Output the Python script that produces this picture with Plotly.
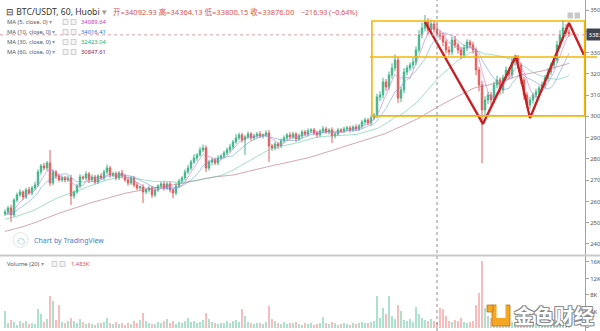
import plotly.graph_objects as go
import pandas as pd

W, H = 600, 331
PW = 585  # plot area width (right margin holds price labels)

# ---------------- data ----------------
warmup_close = [
    23650, 23720, 23580, 23800, 23760, 23900, 23850, 23700, 23820, 23950,
    24020, 23980, 23880, 23940, 24060, 24120, 24000, 23950, 24080, 24150,
    24050, 24110, 24200, 24180, 24090, 24150, 24230, 24280, 24200, 24300,
    24550, 24700, 24650, 24800, 24900, 24850, 25000, 24950, 25100, 25050,
    24980, 25120, 25200, 25080, 25150, 25250, 25180, 25100, 25220, 25300,
    25300, 25420, 25350, 25280, 25400, 25450, 25330, 25380, 25420, 25350,
]
first_open = 25420

close = [
    25506, 25694, 25365, 26070, 26305, 26446, 26211, 26540, 26399, 26634,
    26775, 27386, 27668, 27574, 27809, 26869, 27386, 27198, 27010, 27104,
    27010, 27104, 26258, 26446, 26728, 27151, 27104, 27292, 27010, 27151,
    26916, 27198, 27104, 27386, 27574, 27245, 27292, 27104, 27339, 27198,
    27010, 26869, 27104, 26775, 26634, 26681, 26446, 26540, 26634, 26305,
    26540, 26728, 26822, 26634, 26822, 26540, 26399, 26728, 26963, 27104,
    27386, 27574, 27856, 28044, 28185, 28420, 28514, 27574, 27856, 27950,
    27809, 28044, 28138, 28279, 28420, 28561, 28796, 28984, 29125, 28890,
    29031, 29172, 28984, 29078, 29172, 29078, 29125, 29219, 28608, 28514,
    28702, 28608, 28843, 28984, 29125, 29031, 29172, 28937, 29078, 29266,
    29172, 29313, 29360, 29219, 29125, 29313, 29407, 29266, 29360, 29078,
    29172, 29360, 29313, 29407, 29454, 29360, 29501, 29407, 29548, 29736,
    29830, 29689, 29924, 30065, 30911, 31005, 31616, 31381, 31945, 32274,
    32650, 30864, 31240, 32086, 32274, 32415, 32556, 33120, 33825, 34154,
    34436, 34060, 34342, 34092.93, 33876, 33778, 33496, 33120, 33026, 33590,
    33355, 33120, 32885, 33214, 33496, 33355, 33120, 32180, 31475, 30300,
    30770, 31005, 30770, 31475, 31710, 31240, 31804, 32180, 31945, 32556,
    32744, 32415, 31710, 31005, 30535, 30770, 31005, 31146, 31334, 31475,
    31804, 32086, 32415, 32650, 33355, 33825, 34154, 33966, 33876,
]

upper_wick = [
    120, 90, 150, 80, 110, 130, 70, 100, 140, 90,
    160, 120, 100, 140, 90, 611, 130, 80, 100, 120,
    90, 110, 150, 80, 100, 130, 70, 120, 90, 110,
    100, 80, 130, 110, 160, 90, 100, 120, 80, 140,
    90, 110, 100, 80, 130, 70, 120, 90, 110, 100,
    140, 80, 100, 120, 90, 110, 70, 130, 100, 80,
    120, 150, 100, 180, 90, 140, 160, 120, 100, 90,
    110, 130, 80, 100, 120, 140, 90, 180, 110, 100,
    80, 120, 90, 110, 100, 130, 70, 120, 140, 90,
    100, 80, 110, 120, 90, 130, 100, 80, 110, 90,
    100, 120, 80, 90, 110, 70, 130, 100, 80, 120,
    90, 100, 80, 110, 90, 100, 70, 120, 90, 110,
    100, 80, 130, 90, 150, 180, 200, 140, 160, 220,
    260, 120, 150, 180, 140, 120, 200, 170, 220, 250,
    329, 180, 210, 150, 271.2, 160, 140, 120, 180, 150,
    200, 120, 140, 160, 130, 110, 150, 120, 140, 200,
    180, 150, 140, 160, 200, 130, 150, 170, 120, 190,
    160, 140, 120, 150, 130, 140, 110, 150, 120, 160,
    140, 180, 120, 150, 200, 230, 376, 180, 150,
]

lower_wick = [
    100, 130, 329, 90, 110, 80, 140, 100, 90, 120,
    110, 90, 130, 100, 120, 150, 110, 140, 90, 100,
    120, 100, 423, 130, 90, 110, 100, 120, 140, 90,
    110, 100, 80, 120, 100, 130, 90, 110, 100, 120,
    90, 130, 100, 120, 110, 90, 517, 100, 120, 140,
    100, 90, 110, 130, 100, 120, 250, 110, 90, 100,
    120, 90, 110, 100, 130, 80, 100, 188, 120, 140,
    100, 110, 90, 120, 100, 130, 110, 90, 100, 120,
    705, 100, 130, 90, 110, 100, 120, 90, 752, 130,
    110, 140, 100, 90, 120, 110, 100, 130, 90, 110,
    100, 120, 90, 110, 130, 100, 120, 90, 110, 329,
    120, 100, 90, 110, 100, 120, 90, 110, 100, 120,
    130, 100, 120, 110, 150, 200, 160, 180, 150, 170,
    140, 235, 200, 160, 150, 140, 170, 150, 130, 160,
    150, 200, 170, 160, 75.85, 180, 200, 170, 160, 150,
    140, 170, 200, 150, 160, 140, 170, 250, 300, 2500,
    280, 200, 230, 180, 160, 210, 170, 150, 190, 160,
    180, 150, 200, 230, 150, 180, 160, 150, 140, 170,
    150, 160, 140, 170, 150, 180, 160, 200, 140,
]

volume_k = [
    4.1, 1.2, 2.0, 1.5, 0.8, 1.8, 1.1, 1.6, 0.9, 1.3,
    1.0, 4.6, 3.4, 1.5, 2.2, 7.8, 6.5, 2.0, 5.6, 1.5,
    1.2, 1.6, 2.4, 1.8, 1.1, 2.2, 1.4, 0.9, 1.2, 1.0,
    0.8, 1.3, 1.1, 1.5, 2.5, 1.2, 0.9, 1.4, 1.0, 1.1,
    0.7, 1.2, 1.0, 1.6, 1.3, 2.0, 3.6, 1.8, 1.2, 1.0,
    0.9, 1.4, 1.1, 1.6, 2.2, 1.3, 1.8, 1.0, 1.5, 1.2,
    1.6, 2.5, 1.4, 1.8, 1.2, 1.5, 1.9, 3.6, 2.2, 1.4,
    1.2, 1.0, 1.3, 1.1, 1.6, 1.2, 1.8, 2.0, 1.5, 4.6,
    2.8, 1.5, 1.2, 1.0, 1.3, 1.1, 0.9, 1.4, 5.3, 2.2,
    1.6, 1.2, 1.0, 1.4, 0.9, 1.1, 1.3, 1.5, 1.0, 0.8,
    1.1, 0.9, 1.2, 0.8, 1.0, 1.3, 2.7, 1.2, 0.9, 1.5,
    1.1, 0.8, 1.0, 1.2, 0.9, 0.8, 1.1, 1.0, 1.2, 1.5,
    1.3, 1.1, 1.5, 1.8, 7.8, 2.5, 4.8, 3.5, 7.8, 2.8,
    2.2, 5.6, 4.0, 2.0, 1.6, 2.2, 1.5, 5.1, 3.5, 2.4,
    2.0, 1.8, 2.2, 1.6, 1.483, 4.8, 4.5, 3.0, 1.8, 1.5,
    2.0, 1.6, 2.5, 1.4, 1.2, 1.5, 1.8, 5.6, 8.5, 16.2,
    4.8, 3.0, 2.5, 2.2, 1.8, 2.0, 1.6, 1.4, 1.8, 1.5,
    1.2, 1.6, 2.0, 1.8, 1.5, 1.3, 1.6, 1.2, 1.4, 1.1,
    1.3, 1.5, 1.2, 1.6, 1.8, 2.0, 1.5, 1.3, 1.2,
]

price_ticks = [24000, 25000, 26000, 27000, 28000, 29000, 30000,
               31000, 32000, 33000, 34000, 35000]
price_tick_labels = ["24000.00", "25000.00", "26000.00", "27000.00", "28000.00",
                     "29000.00", "30000.00", "31000.00", "32000.00", "33000.00",
                     "34000.00", "35000.00"]
vol_ticks = [0, 4, 8, 12, 16]
vol_tick_labels = ["0", "4K", "8K", "12K", "16K"]

ma_periods = [5, 10, 30, 60]
ma_legend_values = ["34089.64", "34016.41", "32423.04", "30847.61"]

# user drawings (bar index, price)
zigzag_idx = [140, 159.3, 170.3, 175, 188, 193]
zigzag_price = [34436, 29642, 32838, 29924, 34389, 32885]
box_idx = [122.3, 193.2]
box_price = [30020, 34480]
level_price = 32790
crosshair_idx = 144
crosshair_price = 33832
crosshair_label = "33832.00"

# ---------------- derived ----------------
n = len(close)
idx = list(range(n))
opens = [first_open] + close[:-1]
high = [max(o, c) + u for o, c, u in zip(opens, close, upper_wick)]
low = [min(o, c) - l for o, c, l in zip(opens, close, lower_wick)]

full = pd.Series(warmup_close + close)
mas = {p: full.rolling(p).mean().iloc[len(warmup_close):].tolist() for p in ma_periods}

UP, DN = "#41b58b", "#e35c5c"
UPV, DNV = "#abe1cd", "#f7bcbc"
vol_colors = [UPV if c >= o else DNV for o, c in zip(opens, close)]

FONT = "Noto Sans, Noto Sans CJK SC, sans-serif"

fig = go.Figure()
fig.add_trace(go.Bar(x=idx, y=volume_k, marker=dict(color=vol_colors, line=dict(width=0)),
                     width=0.72, yaxis="y2", hoverinfo="skip"))

ma_line_colors = {5: "rgba(205,120,205,0.6)", 10: "rgba(100,150,225,0.55)",
                  30: "rgba(100,200,170,0.6)", 60: "rgba(195,120,135,0.65)"}
for p in [60, 30, 10, 5]:
    fig.add_trace(go.Scatter(x=idx, y=mas[p], mode="lines",
                             line=dict(color=ma_line_colors[p], width=1), hoverinfo="skip"))

fig.add_trace(go.Candlestick(
    x=idx, open=opens, high=high, low=low, close=close,
    increasing=dict(line=dict(color=UP, width=1), fillcolor=UP),
    decreasing=dict(line=dict(color=DN, width=1), fillcolor=DN),
    whiskerwidth=0, hoverinfo="skip"))

fig.add_trace(go.Scatter(x=zigzag_idx, y=zigzag_price, mode="lines",
                         line=dict(color="#c62024", width=2.4), hoverinfo="skip"))

def px_x(v):
    return v / PW

def px_y(v):
    return 1 - v / H

shapes = []
YEL = "#f2b705"
shapes.append(dict(type="rect", xref="x", yref="y", x0=box_idx[0], x1=box_idx[1],
                   y0=box_price[0], y1=box_price[1], line=dict(color=YEL, width=1.6)))
shapes.append(dict(type="line", xref="paper", yref="y", x0=px_x(370), x1=px_x(597),
                   y0=level_price, y1=level_price, line=dict(color=YEL, width=1.6)))
# crosshair
shapes.append(dict(type="line", xref="x", yref="paper", x0=crosshair_idx, x1=crosshair_idx,
                   y0=0, y1=1, line=dict(color="#8c8c8c", width=1, dash="3px,3px")))
shapes.append(dict(type="line", xref="paper", yref="y", x0=0, x1=1,
                   y0=crosshair_price, y1=crosshair_price,
                   line=dict(color="#d8a2ab", width=1, dash="3px,3px")))
# pane separator
shapes.append(dict(type="line", xref="paper", yref="paper", x0=0, x1=px_x(600),
                   y0=px_y(255.5), y1=px_y(255.5), line=dict(color="#c9c9c9", width=2)))
# small legend buttons
def btn(x, y):
    shapes.append(dict(type="rect", xref="paper", yref="paper", x0=px_x(x), x1=px_x(x + 5),
                       y0=px_y(y + 2.5), y1=px_y(y - 2.5),
                       line=dict(color="#c4c4c4", width=0.8), fillcolor="#f4f4f4"))
for yy in [22, 32, 42, 52]:
    btn(63, yy)
    btn(71, yy)
btn(52, 264)
btn(60, 264)
# top-right buttons
for xx in [567.5, 574.5]:
    shapes.append(dict(type="rect", xref="paper", yref="paper", x0=px_x(xx), x1=px_x(xx + 5.5),
                       y0=px_y(18.5), y1=px_y(12.5), line=dict(width=0), fillcolor="#c8c8c8"))
# TradingView logo circle
shapes.append(dict(type="circle", xref="paper", yref="paper", x0=px_x(13), x1=px_x(28),
                   y0=px_y(247.5), y1=px_y(232.5), line=dict(color="#e3e3e3", width=1),
                   fillcolor="white"))
# watermark icon
ORG = "#f5a623"
shapes.append(dict(type="rect", xref="paper", yref="paper", x0=px_x(492), x1=px_x(510),
                   y0=px_y(326), y1=px_y(305), line=dict(color="#b07a20", width=0.8), fillcolor=ORG))
shapes.append(dict(type="rect", xref="paper", yref="paper", x0=px_x(496.5), x1=px_x(505.5),
                   y0=px_y(318), y1=px_y(304), line=dict(width=0), fillcolor="white"))
shapes.append(dict(type="rect", xref="paper", yref="paper", x0=px_x(487), x1=px_x(493),
                   y0=px_y(312), y1=px_y(305), line=dict(color="#b07a20", width=0.8), fillcolor=ORG))

ann = []
def text(x, y, s, size, color, anchor="left", **kw):
    d = dict(xref="paper", yref="paper", x=px_x(x), y=px_y(y), text=s, showarrow=False,
             xanchor=anchor, yanchor="middle", borderpad=0,
             font=dict(family=FONT, size=size, color=color))
    d.update(kw)
    ann.append(d)

text(5, 12, "⊟ BTC/USDT, 60, Huobi <span style='color:#999'>▾</span>", 8.6, "#333")
RED = "#d9534f"
text(112, 12, "开=34092.93 高=34364.13 低=33800.15 收=33876.00", 7.5, RED)
text(300, 12, "−216.93 (−0.64%)", 7.1, RED)
ma_val_colors = ["#c13bb8", "#2b6fd6", "#2daa63", "#8c2157"]
for k, (p, v) in enumerate(zip(ma_periods, ma_legend_values)):
    yy = 22 + 10 * k
    text(6, yy, f"MA ({p}, close, 0) <span style='color:#999'>▾</span>", 5.8, "#555")
    text(80, yy, v, 5.8, ma_val_colors[k])
text(6, 264, "Volume (20) <span style='color:#999'>▾</span>", 5.8, "#555")
text(70, 264, "1.483K", 5.8, RED)
text(33, 240, "Chart by TradingView", 7, "#3a7fd0")
text(20.5, 240.5, "☁", 8, "#3a7fd0", anchor="center")
# crosshair price label
ann.append(dict(xref="paper", yref="y", x=px_x(586), y=crosshair_price, text=crosshair_label,
                showarrow=False, xanchor="left", yanchor="middle", bgcolor="#3f4450",
                borderpad=1.5, font=dict(family=FONT, size=6, color="white")))
# watermark text
ann.append(dict(xref="paper", yref="paper", x=px_x(512), y=px_y(315.5), text="<b>金色财经</b>",
                showarrow=False, xanchor="left", yanchor="middle",
                font=dict(family="Noto Sans CJK SC", size=20, color="white",
                          shadow="1px 1px 0 #8a8a8a, -1px -1px 0 #8a8a8a, 1px -1px 0 #8a8a8a, -1px 1px 0 #8a8a8a")))

fig.update_layout(
    width=W, height=H, margin=dict(l=0, r=W - PW, t=0, b=0, autoexpand=False),
    paper_bgcolor="white", plot_bgcolor="white", showlegend=False,
    bargap=0, hovermode=False,
    xaxis=dict(range=[-5 / 3, (PW - 5) / 3], showticklabels=False, showgrid=False,
               zeroline=False, showline=False, ticks="", rangeslider=dict(visible=False),
               fixedrange=True, automargin=False),
    yaxis=dict(domain=[1 - 255 / H, 1], range=[23480, 35470], side="right",
               tickvals=price_ticks, ticktext=price_tick_labels, showgrid=False,
               zeroline=False, showline=True, linecolor="#a0a3aa", linewidth=1,
               ticks="outside", ticklen=3, tickcolor="#a0a3aa", automargin=False,
               tickfont=dict(family=FONT, size=6, color="#555")),
    yaxis2=dict(domain=[0, 1 - 256 / H], range=[-0.73, 17.45], side="right", anchor="x",
                tickvals=vol_ticks, ticktext=vol_tick_labels, showgrid=False,
                zeroline=False, showline=True, linecolor="#a0a3aa", linewidth=1,
                ticks="outside", ticklen=3, tickcolor="#a0a3aa", automargin=False,
                tickfont=dict(family=FONT, size=6, color="#555")),
    shapes=shapes, annotations=ann,
)

fig.write_html("out.html")
